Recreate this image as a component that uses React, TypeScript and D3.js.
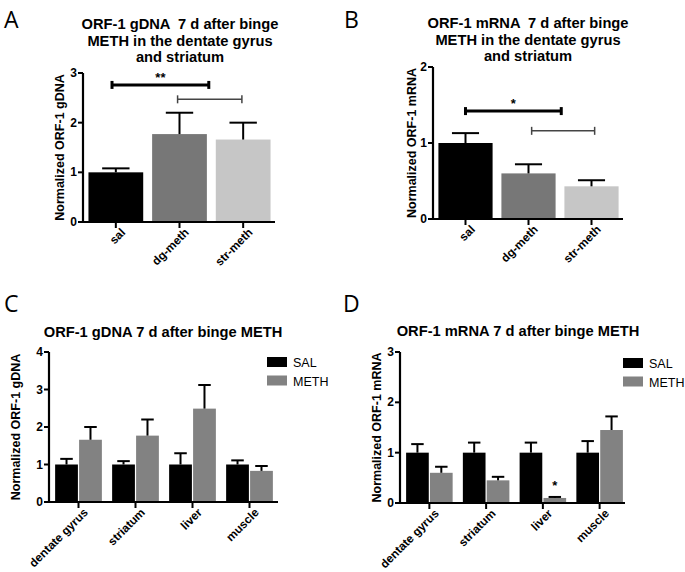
import React from "react";
import * as d3 from "d3";

// ---------- data ----------
const singleCats = ["sal", "dg-meth", "str-meth"];
const singleColors = ["#000000", "#777777", "#c6c6c6"];
const gdnaMeans = [1.0, 1.77, 1.66];
const gdnaSem = [0.08, 0.43, 0.34];
const mrnaMeans = [1.0, 0.6, 0.43];
const mrnaSem = [0.13, 0.12, 0.08];

const tissues = ["dentate gyrus", "striatum", "liver", "muscle"];
const groups = ["SAL", "METH"];
const groupColors = ["#000000", "#828282"];
const gdnaSal = [1.0, 1.0, 1.0, 1.0];
const gdnaSalSem = [0.15, 0.09, 0.3, 0.11];
const gdnaMeth = [1.66, 1.77, 2.49, 0.83];
const gdnaMethSem = [0.34, 0.43, 0.63, 0.13];
const mrnaSal = [1.0, 1.0, 1.0, 1.0];
const mrnaSalSem = [0.17, 0.2, 0.2, 0.23];
const mrnaMeth = [0.6, 0.45, 0.1, 1.45];
const mrnaMethSem = [0.12, 0.07, 0.02, 0.27];

const ticksA = [0, 1, 2, 3];
const ticksB = [0, 1, 2];
const ticksC = [0, 1, 2, 3, 4];
const ticksD = [0, 1, 2, 3];

const FONT = "Arial, 'Liberation Sans', Helvetica, sans-serif";
const TITLE_SIZE = 14.7;

type Sig = { from: number; to: number; value: number; label: string; thick: boolean };
const sigA: Sig[] = [
  { from: -0.06, to: 1.46, value: 2.76, label: "**", thick: true },
  { from: 0.97, to: 1.98, value: 2.47, label: "", thick: false },
];
const sigB: Sig[] = [
  { from: 0.0, to: 1.52, value: 1.42, label: "*", thick: true },
  { from: 1.05, to: 2.05, value: 1.16, label: "", thick: false },
];

function YAxis({ y, x, ticks, label, labelX }: any) {
  const [r0, r1] = y.range();
  return (
    <g>
      <line x1={x} x2={x} y1={r0 + 1} y2={r1} stroke="#000" strokeWidth={2.2} />
      {ticks.map((t: number) => (
        <g key={t}>
          <line x1={x - 5} x2={x} y1={y(t)} y2={y(t)} stroke="#000" strokeWidth={2} />
          <text x={x - 6} y={y(t) + 4} textAnchor="end" fontSize={12} fontWeight="bold" fontFamily={FONT}>
            {t}
          </text>
        </g>
      ))}
      <text
        transform={`translate(${labelX},${(r0 + r1) / 2}) rotate(-90)`}
        textAnchor="middle"
        dominantBaseline="central"
        fontSize={12.5}
        fontWeight="bold"
        fontFamily={FONT}
      >
        {label}
      </text>
    </g>
  );
}

function XAxis({ x0, x1, y0, tickXs, labels }: any) {
  return (
    <g>
      <line x1={x0 - 1} x2={x1} y1={y0} y2={y0} stroke="#000" strokeWidth={2.2} />
      {tickXs.map((tx: number, i: number) => (
        <g key={i}>
          <line x1={tx} x2={tx} y1={y0} y2={y0 + 6} stroke="#000" strokeWidth={2} />
          <text
            transform={`translate(${tx + 4},${y0 + 5}) rotate(-45)`}
            textAnchor="end"
            dominantBaseline="hanging"
            fontSize={11.8}
            fontWeight="bold"
            fontFamily={FONT}
          >
            {labels[i]}
          </text>
        </g>
      ))}
    </g>
  );
}

function ErrBar({ cx, y, top, w }: any) {
  return (
    <g stroke="#000" strokeWidth={2}>
      <line x1={cx} x2={cx} y1={y} y2={top} />
      <line x1={cx - w / 2} x2={cx + w / 2} y1={top} y2={top} />
    </g>
  );
}

function SinglePanel({ means, sem, yMax, ticks, axisX, axisEnd, zeroY, topY, label, titleLines, titleX, titleY, letter, letterX, labelX, sigs }: any) {
  const y = d3.scaleLinear().domain([0, yMax]).range([zeroY, topY]);
  const x = d3.scaleBand<string>().domain(singleCats).range([axisX + 1, axisEnd]).paddingInner(0.14).paddingOuter(0.07);
  const bw = x.bandwidth();
  const center = (c: string) => (x(c) as number) + bw / 2;
  const idx = d3.scaleLinear().domain([0, 1]).range([center(singleCats[0]), center(singleCats[1])]);
  return (
    <g>
      <text x={letterX} y={28} fontSize={23} fontFamily="'Open Sans', sans-serif">{letter}</text>
      {titleLines.map((t: string, i: number) => (
        <text key={i} x={titleX} y={titleY + i * 16.5} textAnchor="middle" fontSize={TITLE_SIZE} fontWeight="bold" fontFamily={FONT} style={{ whiteSpace: "pre" }}>
          {t}
        </text>
      ))}
      {singleCats.map((c, i) => (
        <g key={c}>
          <rect x={x(c)} y={y(means[i])} width={bw} height={zeroY - y(means[i])} fill={singleColors[i]} />
          <ErrBar cx={center(c)} y={y(means[i])} top={y(means[i] + sem[i])} w={bw * 0.5} />
        </g>
      ))}
      {sigs.map((s: Sig, i: number) => {
        const yy = y(s.value);
        const sw = s.thick ? 3 : 1.5;
        const col = s.thick ? "#000" : "#444";
        return (
          <g key={i} stroke={col} strokeWidth={sw}>
            <line x1={idx(s.from)} x2={idx(s.from)} y1={yy - 4} y2={yy + 4} />
            <line x1={idx(s.from)} x2={idx(s.to)} y1={yy} y2={yy} />
            <line x1={idx(s.to)} x2={idx(s.to)} y1={yy - 4} y2={yy + 4} />
            {s.label && (
              <text x={(idx(s.from) + idx(s.to)) / 2} y={yy - 3} textAnchor="middle" fontSize={13} fontWeight="bold" fontFamily={FONT} stroke="none" fill="#000">
                {s.label}
              </text>
            )}
          </g>
        );
      })}
      <YAxis y={y} x={axisX} ticks={ticks} label={label} labelX={labelX} />
      <XAxis x0={axisX} x1={axisEnd} y0={zeroY} tickXs={singleCats.map(center)} labels={singleCats} />
    </g>
  );
}

function GroupPanel({ sal, salSem, meth, methSem, yMax, ticks, axisX, axisEnd, bandEnd, zeroY, topY, label, title, titleX, titleY, letter, letterX, labelX, legendX, legendY, stars }: any) {
  const y = d3.scaleLinear().domain([0, yMax]).range([zeroY, topY]);
  const x0 = d3.scaleBand<string>().domain(tissues).range([axisX + 1, bandEnd]).paddingInner(0.18).paddingOuter(0.09);
  const x1 = d3.scaleBand<string>().domain(groups).range([0, x0.bandwidth()]).paddingInner(0.05);
  const bw = x1.bandwidth();
  const series = [
    { m: sal, s: salSem },
    { m: meth, s: methSem },
  ];
  return (
    <g>
      <text x={letterX} y={312} fontSize={23} fontFamily="'Open Sans', sans-serif">{letter}</text>
      <text x={titleX} y={titleY} textAnchor="middle" fontSize={TITLE_SIZE} fontWeight="bold" fontFamily={FONT}>{title}</text>
      {tissues.map((t, ti) => (
        <g key={t}>
          {groups.map((g, gi) => {
            const bx = (x0(t) as number) + (x1(g) as number);
            const v = series[gi].m[ti];
            const e = series[gi].s[ti];
            return (
              <g key={g}>
                <rect x={bx} y={y(v)} width={bw} height={zeroY - y(v)} fill={groupColors[gi]} />
                <ErrBar cx={bx + bw / 2} y={y(v)} top={y(v + e)} w={bw * 0.55} />
                {stars && stars[gi][ti] && (
                  <text x={bx + bw / 2} y={y(v + e) - 7} textAnchor="middle" fontSize={13} fontWeight="bold" fontFamily={FONT}>
                    {stars[gi][ti]}
                  </text>
                )}
              </g>
            );
          })}
        </g>
      ))}
      {groups.map((g, gi) => (
        <g key={g}>
          <rect x={legendX} y={legendY + gi * 18.5} width={20} height={10} fill={groupColors[gi]} />
          <text x={legendX + 26} y={legendY + gi * 18.5 + 10} fontSize={12.5} fontFamily={FONT}>{g}</text>
        </g>
      ))}
      <YAxis y={y} x={axisX} ticks={ticks} label={label} labelX={labelX} />
      <XAxis x0={axisX} x1={axisEnd} y0={zeroY} tickXs={tissues.map((t) => (x0(t) as number) + x0.bandwidth() / 2)} labels={tissues} />
    </g>
  );
}

const starsD = [
  ["", "", "", ""],
  ["", "", "*", ""],
];

export default function App() {
  return (
    <svg width={685} height={572} style={{ position: "absolute", left: 0, top: 0, background: "#fff" }}>
      <rect width={685} height={572} fill="#fff" />
      <SinglePanel
        means={gdnaMeans} sem={gdnaSem} yMax={3} ticks={ticksA}
        axisX={83} axisEnd={275} zeroY={222} topY={73}
        label="Normalized ORF-1 gDNA"
        titleLines={["ORF-1 gDNA  7 d after binge", "METH in the dentate gyrus", "and striatum"]}
        titleX={180} titleY={29} letter="A" letterX={4} labelX={60} sigs={sigA}
      />
      <SinglePanel
        means={mrnaMeans} sem={mrnaSem} yMax={2} ticks={ticksB}
        axisX={433} axisEnd={623} zeroY={219} topY={67}
        label="Normalized ORF-1 mRNA"
        titleLines={["ORF-1 mRNA  7 d after binge", "METH in the dentate gyrus", "and striatum"]}
        titleX={528} titleY={28} letter="B" letterX={344} labelX={412} sigs={sigB}
      />
      <GroupPanel
        sal={gdnaSal} salSem={gdnaSalSem} meth={gdnaMeth} methSem={gdnaMethSem}
        yMax={4} ticks={ticksC} axisX={49} axisEnd={278} bandEnd={278}
        zeroY={502} topY={352} label="Normalized ORF-1 gDNA"
        title="ORF-1 gDNA 7 d after binge METH" titleX={163} titleY={337}
        letter="C" letterX={4} labelX={16} legendX={267} legendY={357}
      />
      <GroupPanel
        sal={mrnaSal} salSem={mrnaSalSem} meth={mrnaMeth} methSem={mrnaMethSem}
        yMax={3} ticks={ticksD} axisX={400} axisEnd={625} bandEnd={628}
        zeroY={503} topY={352} label="Normalized ORF-1 mRNA"
        title="ORF-1 mRNA 7 d after binge METH" titleX={518} titleY={336}
        letter="D" letterX={343} labelX={377} legendX={623} legendY={358} stars={starsD}
      />
    </svg>
  );
}
